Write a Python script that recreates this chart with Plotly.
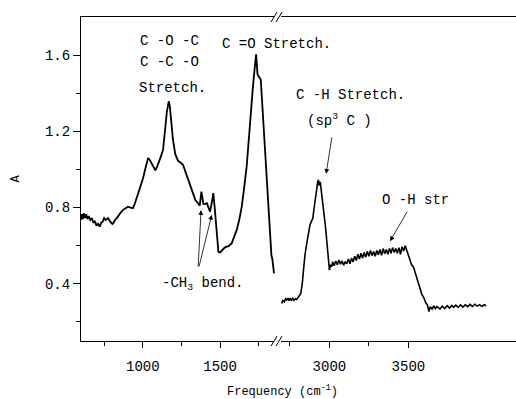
import plotly.graph_objects as go

# ---- data ----
# Left segment (fingerprint / carbonyl region)
wn_left = [600, 606, 612, 618, 626, 634, 642, 650, 660, 670, 680, 690, 700, 710, 721,
           730, 740, 750, 760, 775, 790, 803, 812, 820, 832, 845, 858, 870, 880, 890,
           904, 920, 936, 948, 960, 972, 986, 1000, 1015, 1025, 1034, 1045, 1060, 1075,
           1081, 1095, 1110, 1120, 1131, 1140, 1148, 1155, 1163, 1168, 1175, 1185, 1195,
           1210, 1228, 1245, 1260, 1275, 1290, 1303, 1320, 1340, 1357, 1368, 1379, 1392,
           1405, 1414, 1425, 1435, 1445, 1456, 1465, 1472, 1480, 1489, 1500, 1510, 1521,
           1530, 1543, 1555, 1565, 1575, 1590, 1608, 1625, 1640, 1655, 1672, 1688, 1700,
           1711, 1720, 1726, 1733, 1737, 1742, 1748, 1755, 1763, 1770, 1780, 1790, 1802,
           1812, 1823, 1832, 1838, 1843, 1849]
abs_left = [0.735, 0.765, 0.74, 0.77, 0.745, 0.765, 0.74, 0.755, 0.735, 0.745, 0.72, 0.73,
            0.705, 0.715, 0.70, 0.72, 0.725, 0.745, 0.735, 0.745, 0.725, 0.714, 0.722, 0.735,
            0.745, 0.762, 0.775, 0.787, 0.792, 0.80, 0.805, 0.80, 0.797, 0.82, 0.85, 0.875,
            0.905, 0.95, 1.00, 1.04, 1.06, 1.05, 1.025, 1.0, 0.995, 1.02, 1.05, 1.075, 1.104,
            1.16, 1.24, 1.30, 1.34, 1.358, 1.33, 1.24, 1.156, 1.08, 1.045, 1.035, 1.025, 0.99,
            0.955, 0.928, 0.88, 0.84, 0.823, 0.809, 0.884, 0.819, 0.82, 0.823, 0.80, 0.779,
            0.82, 0.876, 0.80, 0.735, 0.64, 0.568, 0.565, 0.575, 0.581, 0.59, 0.595, 0.598,
            0.605, 0.612, 0.645, 0.683, 0.74, 0.805, 0.90, 1.016, 1.18, 1.332, 1.42, 1.50,
            1.56, 1.604, 1.56, 1.50, 1.49, 1.48, 1.472, 1.38, 1.244, 1.10, 0.946, 0.78, 0.62,
            0.55, 0.53, 0.50, 0.455]

# Right segment (C-H / O-H stretch region)
wn_right = [2698, 2705, 2715, 2722, 2730, 2738, 2745, 2752, 2760, 2768, 2775, 2784, 2793,
            2805, 2819, 2828, 2835, 2845, 2857, 2867, 2877, 2887, 2895, 2902, 2909, 2918,
            2925, 2930, 2936, 2942, 2947, 2952, 2960, 2966, 2975, 2983, 2992, 3000, 3008,
            3015, 3020, 3030, 3040, 3050, 3060, 3070, 3080, 3090, 3100, 3110, 3120, 3130,
            3140, 3150, 3160, 3170, 3180, 3190, 3200, 3210, 3220, 3230, 3240, 3250, 3260,
            3270, 3280, 3290, 3300, 3310, 3320, 3330, 3340, 3350, 3360, 3370, 3380, 3390,
            3400, 3410, 3420, 3430, 3440, 3450, 3460, 3470, 3480, 3490, 3500, 3510, 3520,
            3532, 3545, 3556, 3564, 3575, 3585, 3595, 3610, 3620, 3630, 3638, 3650, 3660,
            3670, 3680, 3691, 3700, 3715, 3730, 3745, 3760, 3775, 3786, 3800, 3815, 3830,
            3845, 3860, 3875, 3890, 3905, 3920, 3935, 3950, 3965, 3980, 3992]
abs_right = [0.297, 0.312, 0.305, 0.322, 0.315, 0.325, 0.312, 0.322, 0.314, 0.324, 0.313,
             0.322, 0.318, 0.33, 0.349, 0.40, 0.472, 0.55, 0.613, 0.67, 0.709, 0.73, 0.744,
             0.79, 0.84, 0.90, 0.93, 0.946, 0.915, 0.935, 0.90, 0.876, 0.83, 0.788, 0.70,
             0.63, 0.54, 0.472, 0.50, 0.49, 0.515, 0.495, 0.52, 0.50, 0.525, 0.503, 0.52,
             0.498, 0.515, 0.505, 0.53, 0.505, 0.535, 0.515, 0.545, 0.522, 0.555, 0.53, 0.56,
             0.535, 0.565, 0.54, 0.57, 0.545, 0.575, 0.548, 0.57, 0.545, 0.575, 0.553, 0.58,
             0.55, 0.585, 0.558, 0.58, 0.555, 0.585, 0.56, 0.59, 0.565, 0.585, 0.56, 0.59,
             0.555, 0.595, 0.572, 0.60, 0.57, 0.55, 0.525, 0.50, 0.489, 0.45, 0.42, 0.402,
             0.37, 0.345, 0.332, 0.30, 0.29, 0.255, 0.279, 0.268, 0.285, 0.27, 0.28, 0.274,
             0.268, 0.283, 0.27, 0.285, 0.273, 0.287, 0.277, 0.288, 0.276, 0.29, 0.278, 0.29,
             0.28, 0.292, 0.281, 0.293, 0.283, 0.29, 0.282, 0.29, 0.285]

y_ticks = [0.4, 0.8, 1.2, 1.6]
y_minor = [0.2, 0.6, 1.0, 1.4]
x_left_ticks = [1000, 1500]
x_left_minor = [750, 1250, 1750]
x_right_ticks = [3000, 3500]
x_right_minor = [2750, 3250]

FONT = "Liberation Mono"
BRK = 0.453  # fraction of the plot width where the axis is broken

fig = go.Figure()
fig.add_trace(go.Scatter(x=wn_left, y=abs_left, mode="lines",
                         line=dict(color="black", width=1.8), xaxis="x", yaxis="y",
                         showlegend=False))
fig.add_trace(go.Scatter(x=wn_right, y=abs_right, mode="lines",
                         line=dict(color="black", width=1.6), xaxis="x2", yaxis="y",
                         showlegend=False))

axis_common = dict(showgrid=False, zeroline=False, showline=True, linecolor="black",
                   linewidth=1, ticks="outside", ticklen=6, tickcolor="black",
                   tickwidth=1, tickfont=dict(family=FONT, size=14, color="black"))

fig.update_layout(
    width=516, height=399,
    margin=dict(l=81, r=0, t=17, b=58),
    paper_bgcolor="white", plot_bgcolor="white",
    xaxis=dict(domain=[0, BRK], range=[600, 1875], tickvals=x_left_ticks,
               ticktext=[str(v) for v in x_left_ticks], mirror=True,
               ticklabelstandoff=6,
               minor=dict(tickvals=x_left_minor, ticklen=4, ticks="outside",
                          tickcolor="black"),
               **axis_common),
    xaxis2=dict(domain=[BRK, 1], range=[2675, 4181], tickvals=x_right_ticks,
                ticktext=[str(v) for v in x_right_ticks], mirror=True, anchor="y",
                ticklabelstandoff=6,
                minor=dict(tickvals=x_right_minor, ticklen=4, ticks="outside",
                           tickcolor="black"),
                **axis_common),
    yaxis=dict(range=[0.1, 1.8], tickvals=y_ticks,
               ticktext=[f"{v:.1f}" for v in y_ticks],
               minor=dict(tickvals=y_minor, ticklen=4, ticks="outside", tickcolor="black"),
               title=dict(text="A", font=dict(family=FONT, size=12, color="black"),
                          standoff=22),
               **{**axis_common, "ticklen": 7}),
)

# broken-axis marks "//" on bottom and top axis lines
for ya in (0, 1):
    fig.add_shape(type="rect", xref="paper", yref="paper", xsizemode="pixel",
                  ysizemode="pixel", xanchor=BRK, yanchor=ya, x0=-4, x1=3, y0=-1.5,
                  y1=1.5, fillcolor="white", line=dict(width=0))
    for dx in (-4, 1):
        fig.add_shape(type="line", xref="paper", yref="paper", xsizemode="pixel",
                      ysizemode="pixel", xanchor=BRK, yanchor=ya,
                      x0=dx - 3, y0=-5, x1=dx + 3, y1=5,
                      line=dict(color="black", width=1))

ann_font = dict(family=FONT, size=14, color="black")
texts = [
    ("C -O -C", "x", 1170, 1.672),
    ("C -C -O", "x", 1170, 1.562),
    ("Stretch.", "x", 1189, 1.43),
    ("C =O Stretch.", "x", 1862, 1.656),
    ("C -H Stretch.", "x2", 3131, 1.393),
    ("(sp<sup>3</sup> C )", "x2", 3061, 1.261),
    ("O -H str", "x2", 3542, 0.84),
    ("-CH<sub>3</sub> bend.", "x", 1390, 0.398),
]
for t, xr, xv, yv in texts:
    fig.add_annotation(text=t, xref=xr, yref="y", x=xv, y=yv, showarrow=False,
                       font=ann_font, xanchor="center", yanchor="middle")

arrows = [
    ("x2", 2979, 0.977, 6, -38),
    ("x2", 3384, 0.624, 18, -31),
    ("x", 1377, 0.787, -3, 58),
    ("x", 1446, 0.762, -13, 53),
]
for xr, xv, yv, ax, ay in arrows:
    fig.add_annotation(text="", xref=xr, yref="y", x=xv, y=yv, ax=ax, ay=ay,
                       showarrow=True, arrowhead=2, arrowsize=1.2, arrowwidth=0.8,
                       arrowcolor="black")

fig.add_annotation(text="Frequency (cm<sup>-1</sup>)", xref="paper", yref="paper",
                   x=0.464, y=-0.176, yshift=-3, showarrow=False, xanchor="center",
                   yanchor="bottom", font=dict(family=FONT, size=12, color="black"))

fig.write_html("out.html")
